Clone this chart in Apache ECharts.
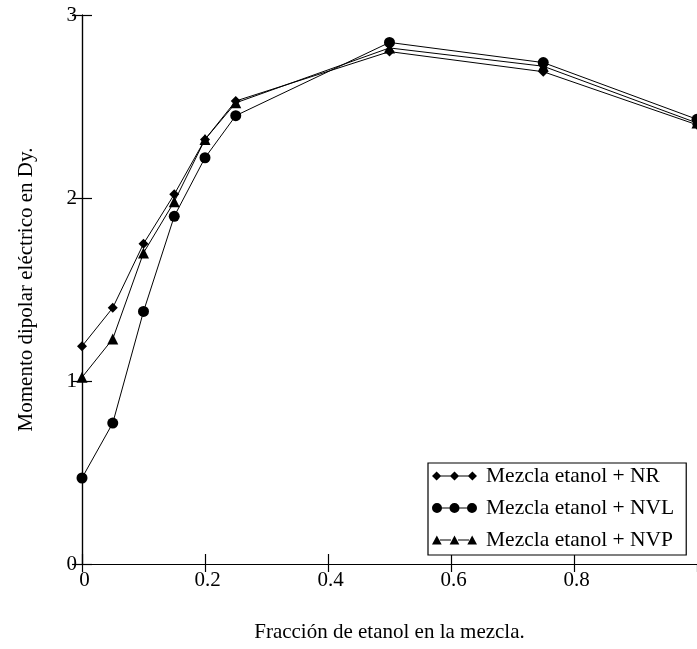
<!DOCTYPE html>
<html>
<head>
<meta charset="utf-8">
<script src="https://cdn.jsdelivr.net/npm/echarts@6/dist/echarts.min.js"></script>
<style>
html,body{margin:0;padding:0;background:#fff;}
#c{width:697px;height:649px;}
</style>
</head>
<body>
<div id="c"></div>
<script>
const xValues = [0, 0.05, 0.1, 0.15, 0.2, 0.25, 0.5, 0.75, 1.0];
const nrValues  = [1.19, 1.40, 1.75, 2.02, 2.32, 2.53, 2.80, 2.69, 2.40];
const nvlValues = [0.47, 0.77, 1.38, 1.90, 2.22, 2.45, 2.85, 2.74, 2.43];
const nvpValues = [1.02, 1.23, 1.70, 1.98, 2.32, 2.52, 2.82, 2.72, 2.41];
const seriesNames = ['Mezcla etanol + NR', 'Mezcla etanol + NVL', 'Mezcla etanol + NVP'];
const xTitle = 'Fracción de etanol en la mezcla.';
const yTitle = 'Momento dipolar eléctrico en Dy.';

const FONT = "'Liberation Serif', 'Times New Roman', serif";
const pair = (vals) => xValues.map((x, i) => [x, vals[i]]);

const links = 'M8 4.6H19V5.4H8Z M26 4.6H37V5.4H26Z ';
const iconNR = 'path://' + links + 'M0.5 5L5 0.5L9.5 5L5 9.5Z M18 5L22.5 0.5L27 5L22.5 9.5Z M35.5 5L40 0.5L44.5 5L40 9.5Z';
const iconNVL = 'path://' + links + 'M0 5A5 5 0 1 1 10 5A5 5 0 1 1 0 5Z M17.5 5A5 5 0 1 1 27.5 5A5 5 0 1 1 17.5 5Z M35 5A5 5 0 1 1 45 5A5 5 0 1 1 35 5Z';
const iconNVP = 'path://' + links + 'M5 0.5L9.8 9.5L0.2 9.5Z M22.5 0.5L27.3 9.5L17.7 9.5Z M40 0.5L44.8 9.5L35.2 9.5Z';

const chart = echarts.init(document.getElementById('c'), null, {renderer: 'canvas'});
const axisLine = {show: true, lineStyle: {color: '#000', width: 1.2}};
chart.setOption({
  backgroundColor: '#fff',
  animation: false,
  grid: {left: 82, right: 0, top: 15, bottom: 85, containLabel: false},
  xAxis: [{
    type: 'value', min: 0, max: 1, interval: 0.2,
    position: 'bottom',
    axisLine: axisLine,
    axisTick: {show: true, inside: true, length: 10, lineStyle: {color: '#000', width: 1.2}},
    axisLabel: {show: true, color: '#000', fontFamily: FONT, fontSize: 21, margin: 6, showMaxLabel: false, padding: [0, 0, 0, 5]},
    splitLine: {show: false},
    name: xTitle, nameLocation: 'middle', nameGap: 58,
    nameTextStyle: {color: '#000', fontFamily: FONT, fontSize: 21}
  }, {
    type: 'value', min: 0, max: 1, interval: 0.2,
    position: 'top',
    axisLine: axisLine,
    axisTick: {show: true, inside: true, length: 8, lineStyle: {color: '#000', width: 1.2}},
    axisLabel: {show: false},
    splitLine: {show: false}
  }],
  yAxis: [{
    type: 'value', min: 0, max: 3, interval: 1,
    position: 'left',
    axisLine: axisLine,
    axisTick: {show: true, inside: true, length: 10, lineStyle: {color: '#000', width: 1.2}},
    axisLabel: {show: true, color: '#000', fontFamily: FONT, fontSize: 21, margin: 5},
    splitLine: {show: false},
    name: yTitle, nameLocation: 'middle', nameGap: 45, nameRotate: 90,
    nameTextStyle: {color: '#000', fontFamily: FONT, fontSize: 21}
  }, {
    type: 'value', min: 0, max: 3, interval: 1,
    position: 'right',
    axisLine: axisLine,
    axisTick: {show: true, inside: true, length: 10, lineStyle: {color: '#000', width: 1.2}},
    axisLabel: {show: false},
    splitLine: {show: false}
  }],
  legend: {
    orient: 'vertical',
    left: 428, top: 463,
    backgroundColor: '#fff',
    borderColor: '#000', borderWidth: 1.2, borderRadius: 0,
    padding: [2, 12, 4, 4],
    itemWidth: 45, itemHeight: 10, itemGap: 10,
    textStyle: {color: '#000', fontFamily: FONT, fontSize: 21.5, lineHeight: 21, padding: [0, 0, 0, 4]},
    data: [
      {name: seriesNames[0], icon: iconNR, itemStyle: {color: '#000'}},
      {name: seriesNames[1], icon: iconNVL, itemStyle: {color: '#000'}},
      {name: seriesNames[2], icon: iconNVP, itemStyle: {color: '#000'}}
    ]
  },
  series: [{
    name: seriesNames[0], type: 'line', data: pair(nrValues),
    symbol: 'diamond', symbolSize: 10,
    itemStyle: {color: '#000'}, lineStyle: {color: '#000', width: 1}
  }, {
    name: seriesNames[1], type: 'line', data: pair(nvlValues),
    symbol: 'circle', symbolSize: 11,
    itemStyle: {color: '#000'}, lineStyle: {color: '#000', width: 1}
  }, {
    name: seriesNames[2], type: 'line', data: pair(nvpValues),
    symbol: 'triangle', symbolSize: 11,
    itemStyle: {color: '#000'}, lineStyle: {color: '#000', width: 1}
  }]
});
</script>
</body>
</html>
